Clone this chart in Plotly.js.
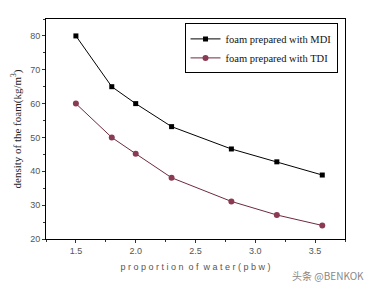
<!DOCTYPE html>
<html>
<head>
<meta charset="utf-8">
<script src="https://cdn.plot.ly/plotly-3.0.1.min.js"></script>
<style>html,body{margin:0;padding:0;background:#fff;}#chart{width:369px;height:287px;}</style>
</head>
<body>
<div id="chart"></div>
<script>
const waterPbw = [1.5, 1.8, 2.0, 2.3, 2.8, 3.18, 3.56];
const densityMDI = [80, 65, 60, 53.2, 46.6, 42.8, 38.9];
const densityTDI = [60, 50, 45.2, 38.1, 31.1, 27.1, 24.0];
const seriesNames = ['foam prepared with MDI', 'foam prepared with TDI'];
const xTickVals = [1.5, 2.0, 2.5, 3.0, 3.5];
const xTickText = ['1.5', '2.0', '2.5', '3.0', '3.5'];
const yTickVals = [20, 30, 40, 50, 60, 70, 80];

const traces = [
  {x: waterPbw, y: densityMDI, name: seriesNames[0], mode: 'lines+markers', type: 'scatter',
   line: {color: '#000', width: 1}, marker: {symbol: 'square', size: 5, color: '#000'}},
  {x: waterPbw, y: densityTDI, name: seriesNames[1], mode: 'lines+markers', type: 'scatter',
   line: {color: '#6e2a3c', width: 1}, marker: {symbol: 'circle', size: 6, color: '#8a3a52'}}
];

const tickFont = {family: 'Liberation Sans, Arial, sans-serif', size: 9, color: '#555'};
const layout = {
  width: 369, height: 287,
  margin: {l: 46, r: 24, t: 19, b: 48},
  paper_bgcolor: '#fff', plot_bgcolor: '#fff',
  showlegend: true,
  legend: {x: 0.975, xanchor: 'right', y: 0.98, yanchor: 'top',
    bordercolor: '#000', borderwidth: 1, bgcolor: '#fff',
    font: {family: 'Liberation Serif, Times New Roman, serif', size: 10.5, color: '#111'},
    tracegroupgap: 0, itemwidth: 30},
  xaxis: {range: [1.25, 3.75], tickvals: xTickVals, ticktext: xTickText,
    ticks: 'outside', ticklen: 3, tickcolor: '#333', showline: true, linecolor: '#000', linewidth: 1,
    mirror: true, showgrid: false, zeroline: false, tickfont: tickFont,
    minor: {dtick: 0.25, tick0: 1.25, ticks: 'outside', ticklen: 2, tickcolor: '#333', showgrid: false},
    title: {text: 'p r o p o r t i o n  o f  w a t e r ( p b w )', standoff: 8,
      font: {family: 'Liberation Sans, Arial, sans-serif', size: 9, color: '#555'}}},
  yaxis: {range: [20, 85], tickvals: yTickVals,
    ticks: 'outside', ticklen: 3, tickcolor: '#333', showline: true, linecolor: '#000', linewidth: 1,
    mirror: true, showgrid: false, zeroline: false, tickfont: tickFont,
    minor: {dtick: 5, ticks: 'outside', ticklen: 2, tickcolor: '#333', showgrid: false},
    title: {text: 'density of the foam(kg/m<sup>3</sup>)', standoff: 6,
      font: {family: 'Liberation Serif, Times New Roman, serif', size: 11, color: '#222'}}},
  annotations: [
    {text: '头条 @BENKOK', xref: 'paper', yref: 'paper', x: 1.07, y: -0.165, xanchor: 'right', yanchor: 'middle',
     showarrow: false, font: {family: 'Noto Sans CJK SC, sans-serif', size: 10, color: '#888'}}
  ]
};

Plotly.newPlot('chart', traces, layout, {displayModeBar: false, staticPlot: true});
</script>
</body>
</html>
